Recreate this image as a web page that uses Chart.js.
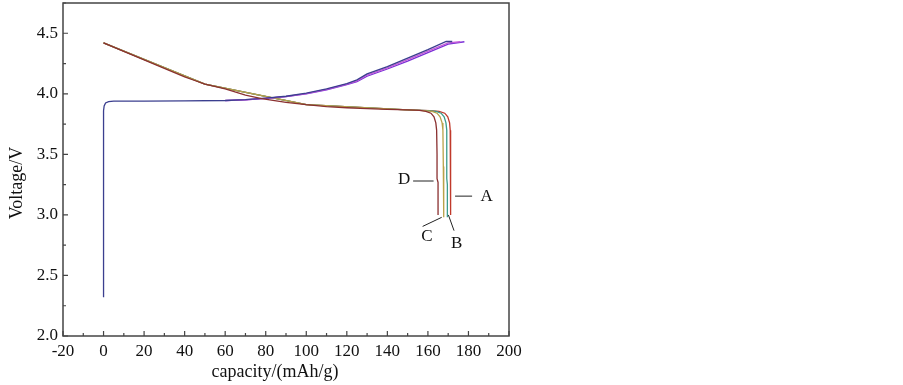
<!DOCTYPE html>
<html>
<head>
<meta charset="utf-8">
<script src="https://cdn.jsdelivr.net/npm/chart.js@4"></script>
<style>
  html, body { margin: 0; padding: 0; background: #fff; }
  #wrap { width: 903px; height: 385px; position: relative; }
</style>
</head>
<body>
<div id="wrap"><canvas id="capChart"></canvas></div>
<script>
// discharge curves (capacity mAh/g, voltage V)
const capD = [0,10,20,30,40,45,50,60,70,78,90,100,110,120,130,140,150,156,159,161.5,163,163.9,164.3,164.5,164.5,165,165];
const voltD = [4.42,4.35,4.28,4.21,4.14,4.11,4.08,4.04,3.99,3.96,3.93,3.91,3.895,3.885,3.878,3.872,3.868,3.863,3.855,3.84,3.81,3.76,3.7,3.5,3.3,3.27,3.0];
const capC = [0,50,100,150,158,162,164.5,166,167,167.4,167.6,167.8,167.8];
const voltC = [4.42,4.08,3.91,3.868,3.862,3.855,3.84,3.81,3.76,3.7,3.4,3.35,2.98];
const capB = [0,50,100,150,160,164,166.5,168,168.9,169.3,169.3,169.6,169.6];
const voltB = [4.42,4.08,3.91,3.868,3.862,3.855,3.84,3.81,3.76,3.7,3.3,3.25,2.98];
const capA = [0,50,100,150,161,165.5,168.3,169.8,170.7,171,171,171.3,171.3];
const voltA = [4.42,4.08,3.91,3.868,3.862,3.855,3.84,3.81,3.76,3.7,3.4,3.36,3.0];

// charge curves
const capCh1 = [0,0,0.3,1,2.5,5,20,40,60,70,80,90,100,110,120,125,130,140,150,160,169,172];
const voltCh1 = [2.32,3.86,3.9,3.925,3.935,3.94,3.94,3.942,3.945,3.952,3.965,3.98,4.005,4.04,4.085,4.115,4.165,4.225,4.295,4.365,4.432,4.432];
const capCh2 = [60,70,80,90,100,110,120,125,130,140,150,160,170,178];
const voltCh2 = [3.944,3.95,3.962,3.976,4.0,4.032,4.075,4.1,4.145,4.205,4.27,4.34,4.41,4.43];
const capCh3 = [60,70,80,90,100,110,120,125,130,140,150,160,170,176];
const voltCh3 = [3.945,3.951,3.963,3.978,4.002,4.036,4.08,4.107,4.155,4.215,4.283,4.352,4.42,4.43];

// curve labels: [letter, textCap, textVolt, lineFromCap, lineFromVolt, lineToCap, lineToVolt]
const curveLabels = [
  ['D', 148.3, 3.29, 152.7, 3.28, 162.8, 3.28],
  ['A', 189, 3.155, 173.4, 3.155, 181.8, 3.155],
  ['C', 159.5, 2.82, 157.4, 2.905, 166.8, 2.98],
  ['B', 174.2, 2.76, 170.1, 3.0, 172.9, 2.87]
];

const xMin = -20, xMax = 200, xStep = 10, xLabelStep = 20;
const yMin = 2.0, yMax = 4.75, yStep = 0.25, yLabelStep = 0.5;

function pts(xs, ys) {
  return xs.map((x, i) => ({ x: x, y: ys[i] }));
}

function curve(xs, ys, color) {
  return {
    data: pts(xs, ys),
    showLine: true,
    borderColor: color,
    backgroundColor: color,
    borderWidth: 1.3,
    pointRadius: 0,
    tension: 0
  };
}

const serif = '"Liberation Serif", "Times New Roman", serif';

const frame = {
  id: 'frame',
  afterDraw(chart) {
    const ctx = chart.ctx;
    const a = chart.chartArea;
    const xs = chart.scales.x, ys = chart.scales.y;
    ctx.save();
    ctx.strokeStyle = '#444';
    ctx.lineWidth = 1.5;
    ctx.strokeRect(a.left, a.top, a.right - a.left, a.bottom - a.top);

    // inward tick marks
    ctx.lineWidth = 1.2;
    ctx.beginPath();
    for (let v = xMin; v <= xMax + 1e-6; v += xStep) {
      const px = xs.getPixelForValue(v);
      const len = Math.abs(v % xLabelStep) < 1e-6 ? 5 : 3;
      ctx.moveTo(px, a.bottom);
      ctx.lineTo(px, a.bottom - len);
    }
    for (let v = yMin; v <= yMax + 1e-6; v += yStep) {
      const py = ys.getPixelForValue(v);
      const major = Math.abs(v / yLabelStep - Math.round(v / yLabelStep)) < 1e-6;
      ctx.moveTo(a.left, py);
      ctx.lineTo(a.left + (major ? 5 : 3), py);
    }
    ctx.stroke();

    // curve labels
    ctx.fillStyle = '#111';
    ctx.font = '17px ' + serif;
    ctx.textAlign = 'center';
    ctx.textBaseline = 'middle';
    ctx.strokeStyle = '#222';
    ctx.lineWidth = 1;
    curveLabels.forEach(l => {
      ctx.beginPath();
      ctx.moveTo(xs.getPixelForValue(l[3]), ys.getPixelForValue(l[4]));
      ctx.lineTo(xs.getPixelForValue(l[5]), ys.getPixelForValue(l[6]));
      ctx.stroke();
      ctx.fillText(l[0], xs.getPixelForValue(l[1]), ys.getPixelForValue(l[2]));
    });

    // axis titles
    ctx.font = '18px ' + serif;
    ctx.fillText('capacity/(mAh/g)', 275, 372);
    ctx.translate(17, 183);
    ctx.rotate(-Math.PI / 2);
    ctx.fillText('Voltage/V', 0, 0);
    ctx.restore();
  }
};

new Chart(document.getElementById('capChart'), {
  type: 'scatter',
  data: {
    datasets: [
      curve(capD, voltD, '#8a3030'),
      curve(capCh1, voltCh1, '#3b3f8f'),
      curve(capCh3, voltCh3, '#c45ad8'),
      curve(capCh2, voltCh2, '#7a2fd6'),
      curve(capC, voltC, '#b9a24a'),
      curve(capB, voltB, '#3a9c8c'),
      curve(capA, voltA, '#c0392b')
    ]
  },
  options: {
    responsive: true,
    maintainAspectRatio: false,
    animation: false,
    layout: { padding: { left: 0, top: 3, right: 394, bottom: 0 } },
    plugins: {
      legend: { display: false },
      tooltip: { enabled: false }
    },
    scales: {
      x: {
        type: 'linear',
        min: xMin,
        max: xMax,
        grid: { display: false, drawTicks: false },
        border: { display: false },
        ticks: {
          stepSize: xStep,
          autoSkip: false,
          maxRotation: 0,
          padding: 5,
          color: '#111',
          font: { family: serif, size: 17 },
          callback: v => (Math.abs(v % xLabelStep) < 1e-6 ? String(v) : '')
        },
        afterFit(scale) {
          scale.height = 49;
          scale.paddingLeft = 0;
          scale.paddingRight = 0;
        }
      },
      y: {
        min: yMin,
        max: yMax,
        grid: { display: false, drawTicks: false },
        border: { display: false },
        ticks: {
          stepSize: yStep,
          autoSkip: false,
          padding: 5,
          color: '#111',
          font: { family: serif, size: 17 },
          callback: v => (Math.abs(v / yLabelStep - Math.round(v / yLabelStep)) < 1e-6 && v < yMax - 0.01 ? v.toFixed(1) : '')
        },
        afterFit(scale) {
          scale.width = 63;
          scale.paddingTop = 0;
          scale.paddingBottom = 0;
        }
      }
    }
  },
  plugins: [frame]
});
</script>
</body>
</html>
